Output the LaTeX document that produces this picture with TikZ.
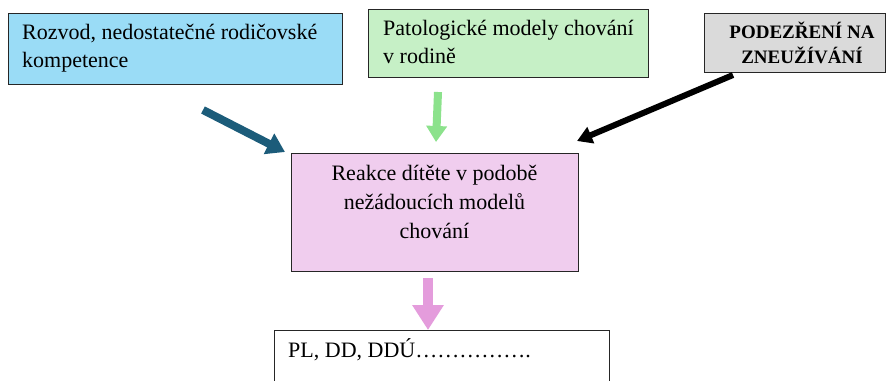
\documentclass[tikz,border=0pt]{standalone}
\usepackage{fontspec}
\setmainfont{Liberation Serif}
\usetikzlibrary{arrows.meta}
\definecolor{bluefill}{RGB}{154,220,246}
\definecolor{greenfill}{RGB}{198,240,198}
\definecolor{grayfill}{RGB}{218,218,218}
\definecolor{pinkfill}{RGB}{240,205,238}
\definecolor{bluearrow}{RGB}{28,92,122}
\definecolor{greenarrow}{RGB}{140,226,140}
\definecolor{pinkarrow}{RGB}{228,156,220}
\tikzset{
  boxed/.style={draw=black!85, line width=1.3pt, rectangle, inner sep=0pt, anchor=north west},
  txt/.style={inner sep=0pt, font=\fontsize{22pt}{28pt}\selectfont},
  boldtxt/.style={inner sep=0pt, font=\fontsize{19pt}{25pt}\selectfont\bfseries},
}
\begin{document}
\begin{tikzpicture}[x=1pt,y=-1pt]
\clip (0,0) rectangle (888,380);
\fill[white] (0,0) rectangle (888,380);
% boxes
\node[boxed, fill=bluefill, minimum width=334pt, minimum height=71pt] (blue) at (8,13) {};
\node[boxed, fill=greenfill, minimum width=280pt, minimum height=68pt] (green) at (368,9) {};
\node[boxed, fill=grayfill, minimum width=181pt, minimum height=59pt] (gray) at (704,13) {};
\node[boxed, fill=pinkfill, minimum width=287pt, minimum height=118pt] (react) at (291,153) {};
\node[boxed, fill=white, minimum width=335pt, minimum height=80pt] (result) at (274,330) {};
% texts (base anchor = baseline of the last line)
\node[txt, anchor=base west, align=left] (bluetext) at (22,67) {Rozvod, nedostatečné rodičovské\\kompetence};
\node[txt, anchor=base west, align=left] (greentext) at (383,63) {Patologické modely chování\\v rodině};
\node[boldtxt, anchor=base, align=center] (graytext) at (802,63) {PODEZŘENÍ NA\\ZNEUŽÍVÁNÍ};
\node[txt, anchor=base, align=center, font=\fontsize{22pt}{29pt}\selectfont] (reacttext) at (434.5,238) {Reakce dítěte v podobě\\nežádoucích modelů\\chování};
\node[txt, anchor=base west] (resulttext) at (288,357) {PL, DD, DDÚ…………….};
% arrow ends
\coordinate (bluetail) at (203,110);
\coordinate (bluetip) at (285,152);
\coordinate (greentail) at (438,92);
\coordinate (greentip) at (436,142);
\coordinate (graytail) at (733,75);
\coordinate (graytip) at (577,141);
\coordinate (pinktail) at (428,278);
\coordinate (pinktip) at (428,330);
% arrows
\draw[bluearrow, line width=8pt, -{Triangle[length=18pt,width=22pt]}] (bluetail) -- (bluetip);
\draw[greenarrow, line width=8pt, -{Triangle[length=16pt,width=20pt]}] (greentail) -- (greentip);
\draw[black, line width=6pt, -{Triangle[length=15pt,width=17pt]}] (graytail) -- (graytip);
\draw[pinkarrow, line width=10pt, -{Triangle[length=25pt,width=30pt]}] (pinktail) -- (pinktip);
\end{tikzpicture}
\end{document}
